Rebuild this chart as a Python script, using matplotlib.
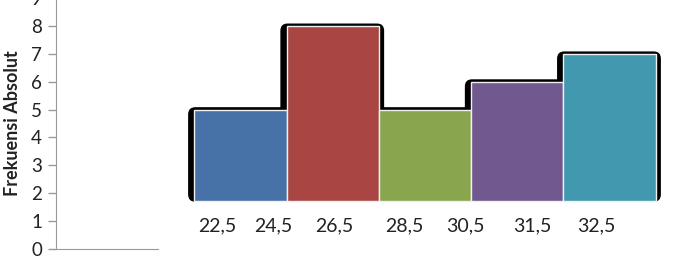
import matplotlib.pyplot as plt
from matplotlib.patches import FancyBboxPatch

# frequency per class (histogram bars)
frekuensi = [5, 8, 5, 6, 7]
bar_colors = ['#4672a8', '#a94543', '#89a54e', '#71588f', '#4198af']
# boundary labels written under the bars
x_labels = ['22,5', '24,5', '26,5', '28,5', '30,5', '31,5', '32,5']
label_pos = [0.25, 0.86, 1.52, 2.28, 2.94, 3.66, 4.36]

plt.rcParams['font.family'] = ['Lato', 'DejaVu Sans']

fig = plt.figure(figsize=(6.75, 2.58), dpi=100)
ax = fig.add_axes([56 / 675, 9 / 258, 618 / 675, 251 / 258])

base = 1.72  # bars float above the axis in the original
xs = list(range(len(frekuensi)))
heights = [f - base for f in frekuensi]

# black soft "shadow" behind each bar
for x, h in zip(xs, heights):
    shadow = FancyBboxPatch((x - 0.06, base), 1.11, h + 0.06,
                            boxstyle='round,pad=0,rounding_size=0.07',
                            mutation_aspect=3.3,
                            facecolor='black', edgecolor='black', lw=1.0, zorder=1)
    ax.add_patch(shadow)

ax.bar(xs, heights, width=1.0, bottom=base, align='edge', color=bar_colors,
       edgecolor='#f0f0f0', linewidth=1.0, zorder=2)

for lab, p in zip(x_labels, label_pos):
    ax.text(p, 0.84, lab, ha='center', va='center', fontsize=14, color='#222222')

ax.set_xlim(-1.5, 5.2)
ax.set_ylim(0, 9)
ax.set_yticks(range(0, 10))
ax.set_xticks([])
ax.tick_params(axis='y', labelsize=13.5, colors='#999999', labelcolor='#222222',
               length=6, width=1, direction='out', pad=4)

for s in ['top', 'right']:
    ax.spines[s].set_visible(False)
ax.spines['left'].set_color('#999999')
ax.spines['bottom'].set_color('#999999')
ax.spines['bottom'].set_bounds(-1.5, -0.39)

ax.set_ylabel('Frekuensi Absolut', fontsize=13, fontweight='bold', color='#222222',
              labelpad=7)

plt.savefig('out.png', dpi=100)
